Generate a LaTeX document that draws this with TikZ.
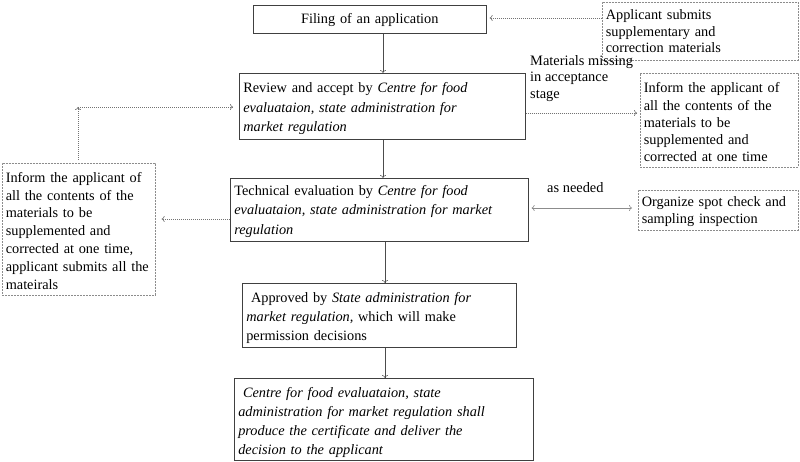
\documentclass[tikz,border=0pt]{standalone}
\usepackage{fontspec}
\setmainfont{Liberation Serif}
\usetikzlibrary{arrows.meta}
\begin{document}
\begin{tikzpicture}[x=1pt,y=-1pt,
  every node/.style={font=\fontsize{14.3}{17.5}\selectfont},
  sbox/.style={draw=black!75, line width=0.6pt, anchor=north west, inner xsep=4pt, inner ysep=0pt, align=left},
  dbox/.style={sbox, draw=black!45, dash pattern=on 2pt off 1pt, inner xsep=3.5pt},
  down/.style={execute at end node={\endgraf\kern-#1pt}},
  arr/.style={draw=black!70, line width=0.5pt, -{To[length=3pt,width=6pt]}},
  darr/.style={draw=black!55, line width=0.6pt, dash pattern=on 1pt off 1pt, -{To[length=3pt,width=6pt]}},
  barr/.style={draw=black!45, line width=0.6pt, {To[length=3pt,width=6pt]}-{To[length=3pt,width=6pt]}},
  lbl/.style={font=\fontsize{14.4}{16.5}\selectfont, align=left, inner sep=0pt}]
\useasboundingbox (0,0) rectangle (800,462);
% main boxes
\node[sbox, minimum width=233pt, minimum height=28pt, text width=225pt, align=center, down=2] (file) at (253,5) {Filing of an application};
\node[sbox, minimum width=286pt, minimum height=66pt, text width=278pt, font=\fontsize{14.3}{19.5}\selectfont, down=5] (review) at (239,73)
 {Review and accept by \textit{Centre for food}\\\textit{evaluataion, state administration for}\\\textit{market regulation}};
\node[sbox, minimum width=298pt, minimum height=63pt, text width=290pt, font=\fontsize{14.3}{19.5}\selectfont, down=3] (tech) at (230,178)
 {Technical evaluation by \textit{Centre for food}\\\textit{evaluataion, state administration for market}\\\textit{regulation}};
\node[sbox, minimum width=274pt, minimum height=64pt, text width=266pt, font=\fontsize{14.3}{19}\selectfont, down=5] (appr) at (242,283)
 {\ Approved by \textit{State administration for}\\\textit{market regulation,} which will make\\permission decisions};
\node[sbox, minimum width=299pt, minimum height=82pt, text width=291pt, font=\fontsize{14.3}{19.2}\selectfont, down=6] (cert) at (234,378)
 {\textit{\ Centre for food evaluataion, state}\\\textit{administration for market regulation shall}\\\textit{produce the certificate and deliver the}\\\textit{decision to the applicant}};
% dashed boxes
\node[dbox, minimum width=196pt, minimum height=58pt, text width=189pt, font=\fontsize{14.3}{16.5}\selectfont] (sub) at (602,2)
 {Applicant submits\\supplementary and\\correction materials};
\node[dbox, minimum width=158pt, minimum height=94pt, text width=151pt, font=\fontsize{14.3}{17.2}\selectfont, down=4] (infr) at (640,73)
 {Inform the applicant of\\all the contents of the\\materials to be\\supplemented and\\corrected at one time};
\node[dbox, minimum width=153pt, minimum height=132pt, text width=146pt, font=\fontsize{14.3}{17.8}\selectfont, down=3] (infl) at (2,163)
 {Inform the applicant of\\all the contents of the\\materials to be\\supplemented and\\corrected at one time,\\applicant submits all the\\mateirals};
\node[dbox, minimum width=160pt, minimum height=40pt, text width=153pt, font=\fontsize{14.3}{17}\selectfont, down=2] (org) at (638,190)
 {Organize spot check and\\sampling inspection};
% labels
\node[lbl, anchor=north west] (miss) at (530,55) {Materials missing\\in acceptance\\stage};
\node[lbl, anchor=north west] (need) at (547,182) {as needed};
% helper coordinates
\coordinate (xa) at (383,0);
\coordinate (xb) at (385,0);
\coordinate (ya) at (0,18);
\coordinate (yb) at (0,113);
\coordinate (yc) at (0,219);
\coordinate (yd) at (0,208);
\coordinate (corner) at (78,107);
% solid arrows
\draw[arr] (file.south -| xa) -- (review.north -| xa);
\draw[arr] (review.south -| xa) -- (tech.north -| xa);
\draw[arr] (tech.south -| xb) -- (appr.north -| xb);
\draw[arr] (appr.south -| xb) -- (cert.north -| xb);
% dotted arrows
\draw[darr, shorten >=3pt] (sub.west |- ya) -- (file.east |- ya);
\draw[darr, shorten >=3pt] (review.east |- yb) -- (infr.west |- yb);
\draw[darr, shorten >=6pt] (tech.west |- yc) -- (infl.east |- yc);
\draw[darr, shorten <=3pt] (infl.north -| corner) -- (corner);
\draw[darr, shorten >=6pt] (corner) -- (review.west |- corner);
\draw[barr, shorten >=6pt, shorten <=3pt] (tech.east |- yd) -- (org.west |- yd);
\end{tikzpicture}
\end{document}
